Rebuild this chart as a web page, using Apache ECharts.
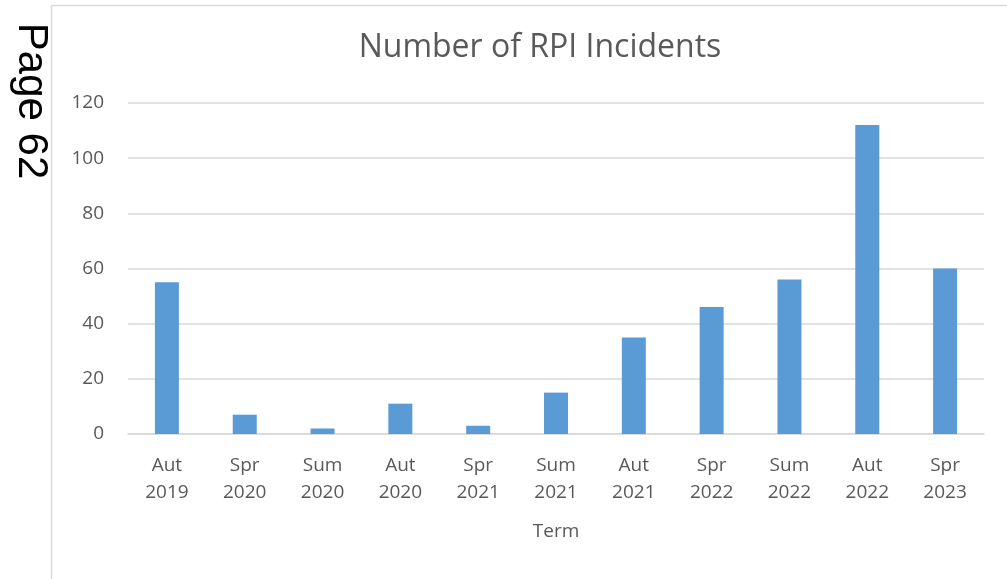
<!DOCTYPE html>
<html>
<head>
<meta charset="UTF-8">
<title>Number of RPI Incidents</title>
<script src="https://cdn.jsdelivr.net/npm/echarts@6/dist/echarts.min.js"></script>
<style>
  html, body { margin: 0; padding: 0; background: #fff; }
  #chart { width: 1007px; height: 579px; }
</style>
</head>
<body>
<div id="chart"></div>
<script>
// terms (x axis) and incident counts
var terms = ['Aut\n2019', 'Spr\n2020', 'Sum\n2020', 'Aut\n2020', 'Spr\n2021', 'Sum\n2021',
             'Aut\n2021', 'Spr\n2022', 'Sum\n2022', 'Aut\n2022', 'Spr\n2023'];
var incidents = [55, 7, 2, 11, 3, 15, 35, 46, 56, 112, 60];
var yTicks = { min: 0, max: 120, interval: 20 };

var txt = '#595959';
var font = 'Open Sans';

var chart = echarts.init(document.getElementById('chart'));
var option = {
  backgroundColor: '#fff',
  title: {
    text: 'Number of RPI Incidents',
    left: 535, top: 27, textAlign: 'center',
    textStyle: { fontFamily: font, fontSize: 32, fontWeight: 'normal', color: txt }
  },
  graphic: [
    // frame of the chart area (left and top edges)
    { type: 'line', shape: { x1: 51.5, y1: 5.5, x2: 51.5, y2: 579 }, style: { stroke: '#d9d9d9', lineWidth: 1.5 } },
    { type: 'line', shape: { x1: 51.5, y1: 5.5, x2: 1007, y2: 5.5 }, style: { stroke: '#d9d9d9', lineWidth: 1.5 } },
    // page number, rotated
    { type: 'text', x: 31, y: 101, rotation: -Math.PI / 2,
      style: { text: 'Page 62', font: '42px "Liberation Sans"', fill: '#000', align: 'center', verticalAlign: 'middle' } }
  ],
  grid: { left: 128, right: 23, top: 103, bottom: 145 },
  xAxis: {
    type: 'category',
    data: terms,
    name: 'Term',
    nameLocation: 'middle',
    nameGap: 88,
    nameTextStyle: { fontFamily: font, fontSize: 19, color: txt },
    axisLine: { lineStyle: { color: '#d9d9d9', width: 1.5 } },
    axisTick: { show: false },
    axisLabel: { fontFamily: font, fontSize: 19, color: txt, lineHeight: 27, margin: 18, interval: 0 }
  },
  yAxis: {
    type: 'value',
    min: yTicks.min, max: yTicks.max, interval: yTicks.interval,
    axisLine: { show: false },
    axisTick: { show: false },
    splitLine: { lineStyle: { color: '#d9d9d9', width: 1.5 } },
    axisLabel: { fontFamily: font, fontSize: 19, color: txt, margin: 24 }
  },
  series: [{
    type: 'bar',
    data: incidents,
    barWidth: 24,
    itemStyle: { color: '#5b9bd5' }
  }]
};
chart.setOption(option);
</script>
</body>
</html>
